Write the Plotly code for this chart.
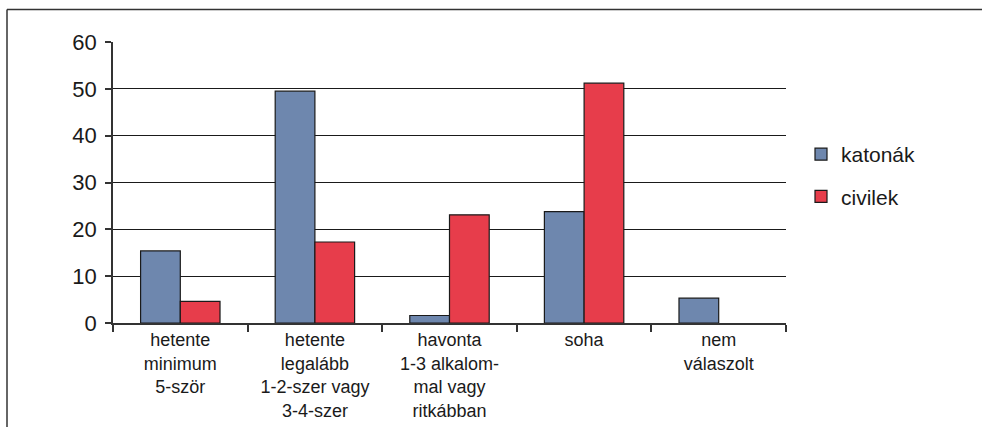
import plotly.graph_objects as go

# survey categories (x axis) and the two groups
categories = [
    "hetente<br>minimum<br>5-ször",
    "hetente<br>legalább<br>1-2-szer vagy<br>3-4-szer",
    "havonta<br>1-3 alkalom-<br>mal vagy<br>ritkábban",
    "soha",
    "nem<br>válaszolt",
]
katonak = [15.4, 49.5, 1.6, 23.8, 5.3]
civilek = [4.6, 17.3, 23.1, 51.2, None]
y_ticks = [0, 10, 20, 30, 40, 50, 60]

W, H = 982, 427
L, R, T, B = 113, 196, 42, 104
pw, ph = W - L - R, H - T - B


def px(x):
    return (x - L) / pw


def py(y):
    return (H - B - y) / ph


fig = go.Figure()
fig.add_trace(go.Bar(x=categories, y=katonak, name="katonák", legendgroup="a",
                     marker=dict(color="#6E87AE", line=dict(color="#1a1a1a", width=1.2))))
fig.add_trace(go.Bar(x=categories, y=civilek, name="civilek", legendgroup="b",
                     marker=dict(color="#E73D4B", line=dict(color="#1a1a1a", width=1.2))))

# outer frame (only top and left edges visible in the original)
fig.add_shape(type="line", xref="paper", yref="paper", x0=px(7), x1=px(W + 5), y0=py(9.5), y1=py(9.5),
              line=dict(color="#333333", width=1.5))
fig.add_shape(type="line", xref="paper", yref="paper", x0=px(7), x1=px(7), y0=py(9.5), y1=py(H + 5),
              line=dict(color="#333333", width=1.5))

fig.update_layout(
    width=W,
    height=H,
    margin=dict(l=L, r=R, t=T, b=B, autoexpand=False),
    barmode="group",
    bargap=0.41,
    bargroupgap=0,
    plot_bgcolor="white",
    paper_bgcolor="white",
    font=dict(family="Liberation Sans, Arial, sans-serif", color="#1a1a1a"),
    legend=dict(x=px(801), y=py(134), xanchor="left", yanchor="top", font=dict(size=21),
                tracegroupgap=12, traceorder="grouped", bgcolor="rgba(0,0,0,0)"),
    showlegend=True,
)
fig.update_xaxes(
    automargin=False,
    showline=True, linecolor="#333333", linewidth=1.5,
    ticks="outside", tickson="boundaries", ticklen=7, tickcolor="#333333", tickwidth=1.5,
    tickfont=dict(size=18), showgrid=False,
)
fig.update_yaxes(
    automargin=False,
    range=[0, 60], tickvals=y_ticks,
    showline=True, linecolor="#333333", linewidth=1.5,
    ticks="outside", ticklen=6, tickcolor="#333333", tickwidth=1.5, ticklabelstandoff=4,
    tickfont=dict(size=22), showgrid=True, gridcolor="#1a1a1a", gridwidth=1,
    zeroline=False,
)

# drop the browser's default body margin so the figure sits at the page corner
fig.write_html("out.html", config={"displayModeBar": False},
               post_script="document.body.style.margin='0';")
